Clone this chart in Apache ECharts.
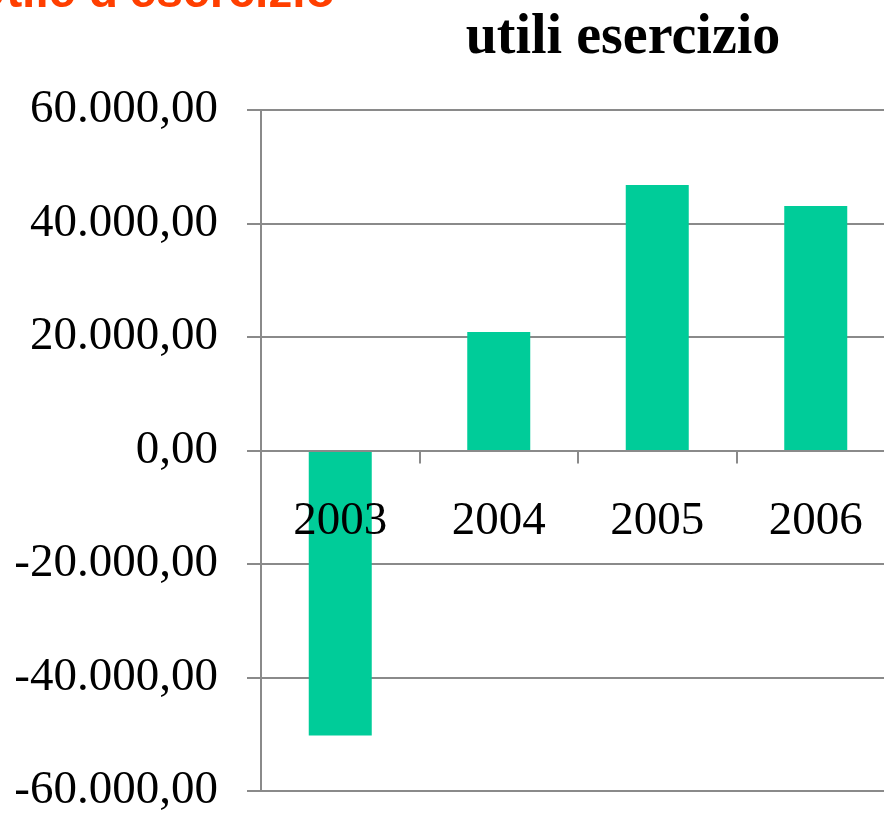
<!DOCTYPE html>
<html>
<head>
<meta charset="utf-8">
<script src="https://cdn.jsdelivr.net/npm/echarts@6/dist/echarts.min.js"></script>
<style>
    html, body { margin: 0; padding: 0; background: #fff; }
    #main { width: 884px; height: 814px; }
</style>
</head>
<body>
<div id="main"></div>
<script>
var years = ['2003', '2004', '2005', '2006'];
var utili = [-50200, 20900, 46800, 43100];

var axisMin = -60000;
var axisMax = 60000;
var axisStep = 20000;

var serif = '"Liberation Serif", "Times New Roman", serif';
var lineGrey = '#8a8a8a';

// 60000 -> "60.000,00"
function formatIt(v) {
    var neg = v < 0;
    var s = String(Math.abs(Math.round(v)));
    s = s.replace(/\B(?=(\d{3})+(?!\d))/g, '.');
    return (neg ? '-' : '') + s + ',00';
}

var chart = echarts.init(document.getElementById('main'));

var option = {
    animation: false,
    backgroundColor: '#fff',
    grid: {
        left: 261,
        top: 110,
        width: 634,
        height: 681,
        containLabel: false,
        outerBoundsMode: 'none'
    },
    graphic: [
        {
            // titolo della slide, tagliato in alto
            type: 'text',
            x: 335,
            y: -30,
            style: {
                text: "Utile d'esercizio",
                align: 'right',
                verticalAlign: 'top',
                fill: '#ff3f00',
                font: 'bold 48px "Liberation Sans", Arial, sans-serif'
            }
        },
        {
            type: 'text',
            x: 623,
            y: 39,
            style: {
                text: 'utili esercizio',
                align: 'center',
                verticalAlign: 'middle',
                fill: '#000',
                font: 'bold 56px ' + serif
            }
        }
    ],
    xAxis: {
        type: 'category',
        data: years,
        z: 5,
        axisLine: {
            onZero: true,
            lineStyle: { color: lineGrey, width: 2 }
        },
        axisTick: {
            show: true,
            length: 13,
            lineStyle: { color: lineGrey, width: 2 }
        },
        axisLabel: {
            // in v6 le etichette restano in fondo alla griglia: le riporto sotto lo zero
            margin: -293,
            fontSize: 47,
            fontFamily: serif,
            color: '#000'
        }
    },
    yAxis: {
        type: 'value',
        min: axisMin,
        max: axisMax,
        interval: axisStep,
        axisLine: {
            show: true,
            lineStyle: { color: lineGrey, width: 2 }
        },
        axisTick: {
            show: true,
            length: 14,
            lineStyle: { color: lineGrey, width: 2 }
        },
        splitLine: {
            show: true,
            lineStyle: { color: lineGrey, width: 2 }
        },
        axisLabel: {
            margin: 43,
            fontSize: 47,
            fontFamily: serif,
            color: '#000',
            formatter: formatIt
        }
    },
    series: [{
        name: 'utili esercizio',
        type: 'bar',
        data: utili,
        barWidth: 63,
        itemStyle: { color: '#00cc99' }
    }]
};

chart.setOption(option);
</script>
</body>
</html>
